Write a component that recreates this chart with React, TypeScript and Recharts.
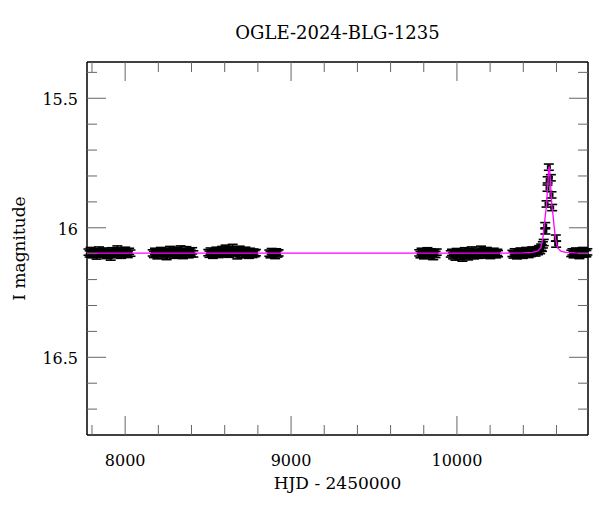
import React from "react";
import { ScatterChart, Scatter, XAxis, YAxis, ErrorBar } from "recharts";

// photometry, [HJD - 2450000, I mag], one array per observing season
const season2017 = [
  [7779, 16.094], [7786, 16.101], [7792, 16.088], [7800, 16.097], [7806, 16.104], [7813, 16.092],
  [7820, 16.099], [7828, 16.109], [7835, 16.095], [7842, 16.086], [7850, 16.1], [7858, 16.093],
  [7866, 16.103], [7874, 16.09], [7882, 16.098], [7890, 16.107], [7897, 16.094], [7905, 16.101],
  [7913, 16.113], [7921, 16.089], [7929, 16.097], [7937, 16.104], [7945, 16.092], [7953, 16.082],
  [7960, 16.099], [7968, 16.095], [7976, 16.106], [7984, 16.09], [7992, 16.1], [8000, 16.087],
  [8008, 16.096], [8016, 16.103], [8024, 16.091], [8032, 16.098],
];
const season2018 = [
  [8166, 16.097], [8173, 16.103], [8180, 16.091], [8187, 16.099], [8194, 16.108], [8201, 16.094],
  [8208, 16.1], [8215, 16.088], [8222, 16.096], [8229, 16.105], [8236, 16.093], [8243, 16.099],
  [8250, 16.111], [8257, 16.09], [8264, 16.097], [8271, 16.084], [8278, 16.101], [8285, 16.094],
  [8292, 16.106], [8299, 16.092], [8306, 16.099], [8313, 16.087], [8320, 16.103], [8327, 16.095],
  [8334, 16.082], [8341, 16.098], [8348, 16.107], [8355, 16.091], [8362, 16.1], [8369, 16.085],
  [8376, 16.096], [8383, 16.104], [8390, 16.092], [8397, 16.099], [8404, 16.089], [8411, 16.101],
];
const season2019 = [
  [8501, 16.096], [8508, 16.102], [8515, 16.09], [8522, 16.098], [8529, 16.106], [8536, 16.093],
  [8543, 16.099], [8550, 16.087], [8557, 16.095], [8564, 16.103], [8571, 16.089], [8578, 16.097],
  [8585, 16.084], [8592, 16.1], [8599, 16.092], [8606, 16.079], [8613, 16.096], [8620, 16.088],
  [8627, 16.102], [8634, 16.085], [8641, 16.094], [8648, 16.076], [8655, 16.091], [8662, 16.099],
  [8669, 16.086], [8676, 16.108], [8683, 16.093], [8690, 16.083], [8697, 16.097], [8704, 16.09],
  [8711, 16.104], [8718, 16.095], [8725, 16.087], [8732, 16.1], [8739, 16.093], [8746, 16.106],
  [8753, 16.091], [8760, 16.098], [8767, 16.103], [8774, 16.094], [8781, 16.1], [8788, 16.096],
];
const season2020 = [
  [8869, 16.098], [8876, 16.104], [8883, 16.092], [8890, 16.1], [8897, 16.095], [8904, 16.107],
  [8911, 16.093], [8918, 16.101], [8925, 16.097],
];
const season2022 = [
  [9773, 16.097], [9780, 16.104], [9787, 16.091], [9794, 16.099], [9801, 16.108], [9808, 16.094],
  [9815, 16.101], [9822, 16.089], [9829, 16.097], [9836, 16.105], [9843, 16.093], [9850, 16.1],
  [9857, 16.111], [9864, 16.096], [9871, 16.103], [9878, 16.094],
];
const season2023 = [
  [9963, 16.101], [9970, 16.095], [9977, 16.108], [9984, 16.099], [9991, 16.113], [9998, 16.092],
  [10005, 16.104], [10012, 16.097], [10019, 16.11], [10026, 16.094], [10033, 16.117], [10040, 16.101],
  [10047, 16.089], [10054, 16.106], [10061, 16.098], [10068, 16.112], [10075, 16.093], [10082, 16.103],
  [10089, 16.086], [10096, 16.099], [10103, 16.108], [10110, 16.095], [10117, 16.102], [10124, 16.09],
  [10131, 16.106], [10138, 16.097], [10145, 16.083], [10152, 16.1], [10159, 16.093], [10166, 16.105],
  [10173, 16.098], [10180, 16.088], [10187, 16.101], [10194, 16.094], [10201, 16.107], [10208, 16.096],
  [10215, 16.102], [10222, 16.091], [10229, 16.099], [10236, 16.104], [10243, 16.095], [10248, 16.1],
];
const season2024 = [
  [10334, 16.099], [10341, 16.105], [10348, 16.093], [10355, 16.101], [10362, 16.108], [10369, 16.095],
  [10376, 16.102], [10383, 16.09], [10390, 16.098], [10397, 16.106], [10404, 16.094], [10411, 16.1],
  [10418, 16.088], [10425, 16.097], [10432, 16.103], [10439, 16.092], [10446, 16.099], [10453, 16.086],
  [10460, 16.095], [10467, 16.09], [10474, 16.097], [10481, 16.085], [10488, 16.092], [10495, 16.081],
  [10502, 16.088], [10508, 16.075], [10513, 16.079], [10518, 16.066], [10523, 16.057],
  // the event
  [10532, 15.992], [10533, 16.012], [10540, 15.908], [10546, 15.847], [10547, 15.815], [10554, 15.766],
  [10566, 15.807], [10570, 15.873], [10574, 15.922], [10596, 16.04], [10598, 16.063],
  [10689, 16.099], [10696, 16.093], [10703, 16.104], [10710, 16.096], [10717, 16.09], [10724, 16.101],
  [10731, 16.095], [10738, 16.107], [10745, 16.092], [10752, 16.099], [10759, 16.088], [10766, 16.102],
  [10773, 16.095], [10780, 16.1], [10786, 16.093],
];
const magErr = 0.012;

// best-fit model (magenta)
const model = [
  [7770, 16.098], [10300, 16.098], [10400, 16.097], [10456, 16.095], [10486, 16.09], [10506, 16.077],
  [10518, 16.04], [10527, 15.99], [10533, 15.95], [10539, 15.92], [10543, 15.88], [10546, 15.85],
  [10550, 15.81], [10552.5, 15.775], [10556, 15.763], [10559.5, 15.775], [10562, 15.81], [10566, 15.85],
  [10569, 15.88], [10573, 15.92], [10579, 15.95], [10585, 15.99], [10594, 16.04], [10606, 16.077],
  [10626, 16.09], [10656, 16.095], [10712, 16.097], [10790, 16.098],
];

const xTicks = [7800, 8000, 8200, 8400, 8600, 8800, 9000, 9200, 9400, 9600, 9800, 10000, 10200, 10400, 10600];
const xLabels = [8000, 9000, 10000];
const yTicks = [15.4, 15.5, 15.6, 15.7, 15.8, 15.9, 16, 16.1, 16.2, 16.3, 16.4, 16.5, 16.6, 16.7];
const yLabels = [15.5, 16, 16.5];

const FONT = "'DejaVu Serif', serif";
const TICK = "#666";
const MAJOR = 19;
const MINOR = 10;

const obs = [
  ...season2017, ...season2018, ...season2019, ...season2020,
  ...season2022, ...season2023, ...season2024,
].map(([t, mag]) => ({ t, mag, err: magErr }));
const modelData = model.map(([t, mag]) => ({ t, mag }));

const tickText = { fontFamily: FONT, fontSize: 16, fill: "#000" };

function BottomTick({ x, y, payload }: any) {
  const major = xLabels.includes(payload.value);
  return (
    <g>
      <line x1={x} x2={x} y1={y} y2={y - (major ? MAJOR : MINOR)} stroke={TICK} />
      {major && (
        <text x={x} y={y + 31} textAnchor="middle" {...tickText}>
          {payload.value}
        </text>
      )}
    </g>
  );
}

function TopTick({ x, y, payload }: any) {
  const major = xLabels.includes(payload.value);
  return <line x1={x} x2={x} y1={y} y2={y + (major ? MAJOR : MINOR)} stroke={TICK} />;
}

function LeftTick({ x, y, payload }: any) {
  const major = yLabels.includes(payload.value);
  return (
    <g>
      <line x1={x} x2={x + (major ? MAJOR : MINOR)} y1={y} y2={y} stroke={TICK} />
      {major && (
        <text x={x - 9} y={y + 7} textAnchor="end" {...tickText}>
          {payload.value}
        </text>
      )}
    </g>
  );
}

function RightTick({ x, y, payload }: any) {
  const major = yLabels.includes(payload.value);
  return <line x1={x} x2={x - (major ? MAJOR : MINOR)} y1={y} y2={y} stroke={TICK} />;
}

function YTitle({ viewBox }: any) {
  const cx = 19;
  const cy = viewBox.y + viewBox.height / 2;
  return (
    <text x={cx} y={cy} transform={`rotate(-90 ${cx} ${cy})`} textAnchor="middle"
      dominantBaseline="central" fontFamily={FONT} fontSize={17} fill="#000">
      I magnitude
    </text>
  );
}

function XTitle({ viewBox }: any) {
  return (
    <text x={viewBox.x + viewBox.width / 2} y={489} textAnchor="middle"
      fontFamily={FONT} fontSize={17} fill="#000">
      HJD - 2450000
    </text>
  );
}

const square = (p: any) => <rect x={p.cx - 2} y={p.cy - 2} width={4} height={4} fill="#000" />;

export default function App() {
  const xDomain = [7770, 10790];
  const yDomain = [15.36, 16.8];
  const axisLine = { stroke: "#000", strokeWidth: 1.5 };
  return (
    <div style={{ position: "absolute", left: 0, top: 0, width: 600, height: 512, background: "#fff" }}>
      <div style={{
        position: "absolute", left: 87, width: 501, top: 22, textAlign: "center",
        fontFamily: FONT, fontSize: 18, color: "#000",
      }}>
        OGLE-2024-BLG-1235
      </div>
      <ScatterChart width={600} height={512} margin={{ top: 0, right: 0, bottom: 0, left: 0 }}>
        <XAxis xAxisId="b" dataKey="t" type="number" domain={xDomain} allowDataOverflow
          ticks={xTicks} interval={0} height={77} tickSize={0} tickMargin={0}
          tickLine={false} axisLine={axisLine} tick={<BottomTick />} label={<XTitle />} />
        <XAxis xAxisId="top" orientation="top" dataKey="t" type="number" domain={xDomain} allowDataOverflow
          ticks={xTicks} interval={0} height={62} tickSize={0} tickMargin={0}
          tickLine={false} axisLine={axisLine} tick={<TopTick />} />
        <YAxis yAxisId="l" dataKey="mag" type="number" domain={yDomain} allowDataOverflow reversed
          ticks={yTicks} interval={0} width={87} tickSize={0} tickMargin={0}
          tickLine={false} axisLine={axisLine} tick={<LeftTick />} label={<YTitle />} />
        <YAxis yAxisId="r" orientation="right" dataKey="mag" type="number" domain={yDomain} allowDataOverflow reversed
          ticks={yTicks} interval={0} width={12} tickSize={0} tickMargin={0}
          tickLine={false} axisLine={axisLine} tick={<RightTick />} />
        <Scatter xAxisId="b" yAxisId="l" data={obs} shape={square} isAnimationActive={false}>
          <ErrorBar dataKey="err" direction="y" width={5} stroke="#000" strokeWidth={1.6} />
        </Scatter>
        <Scatter xAxisId="b" yAxisId="l" data={modelData} line={{ stroke: "#ff00ff", strokeWidth: 1.3 }}
          shape={() => <g />} isAnimationActive={false} />
        <Scatter xAxisId="top" yAxisId="r" data={[]} isAnimationActive={false} />
      </ScatterChart>
    </div>
  );
}
